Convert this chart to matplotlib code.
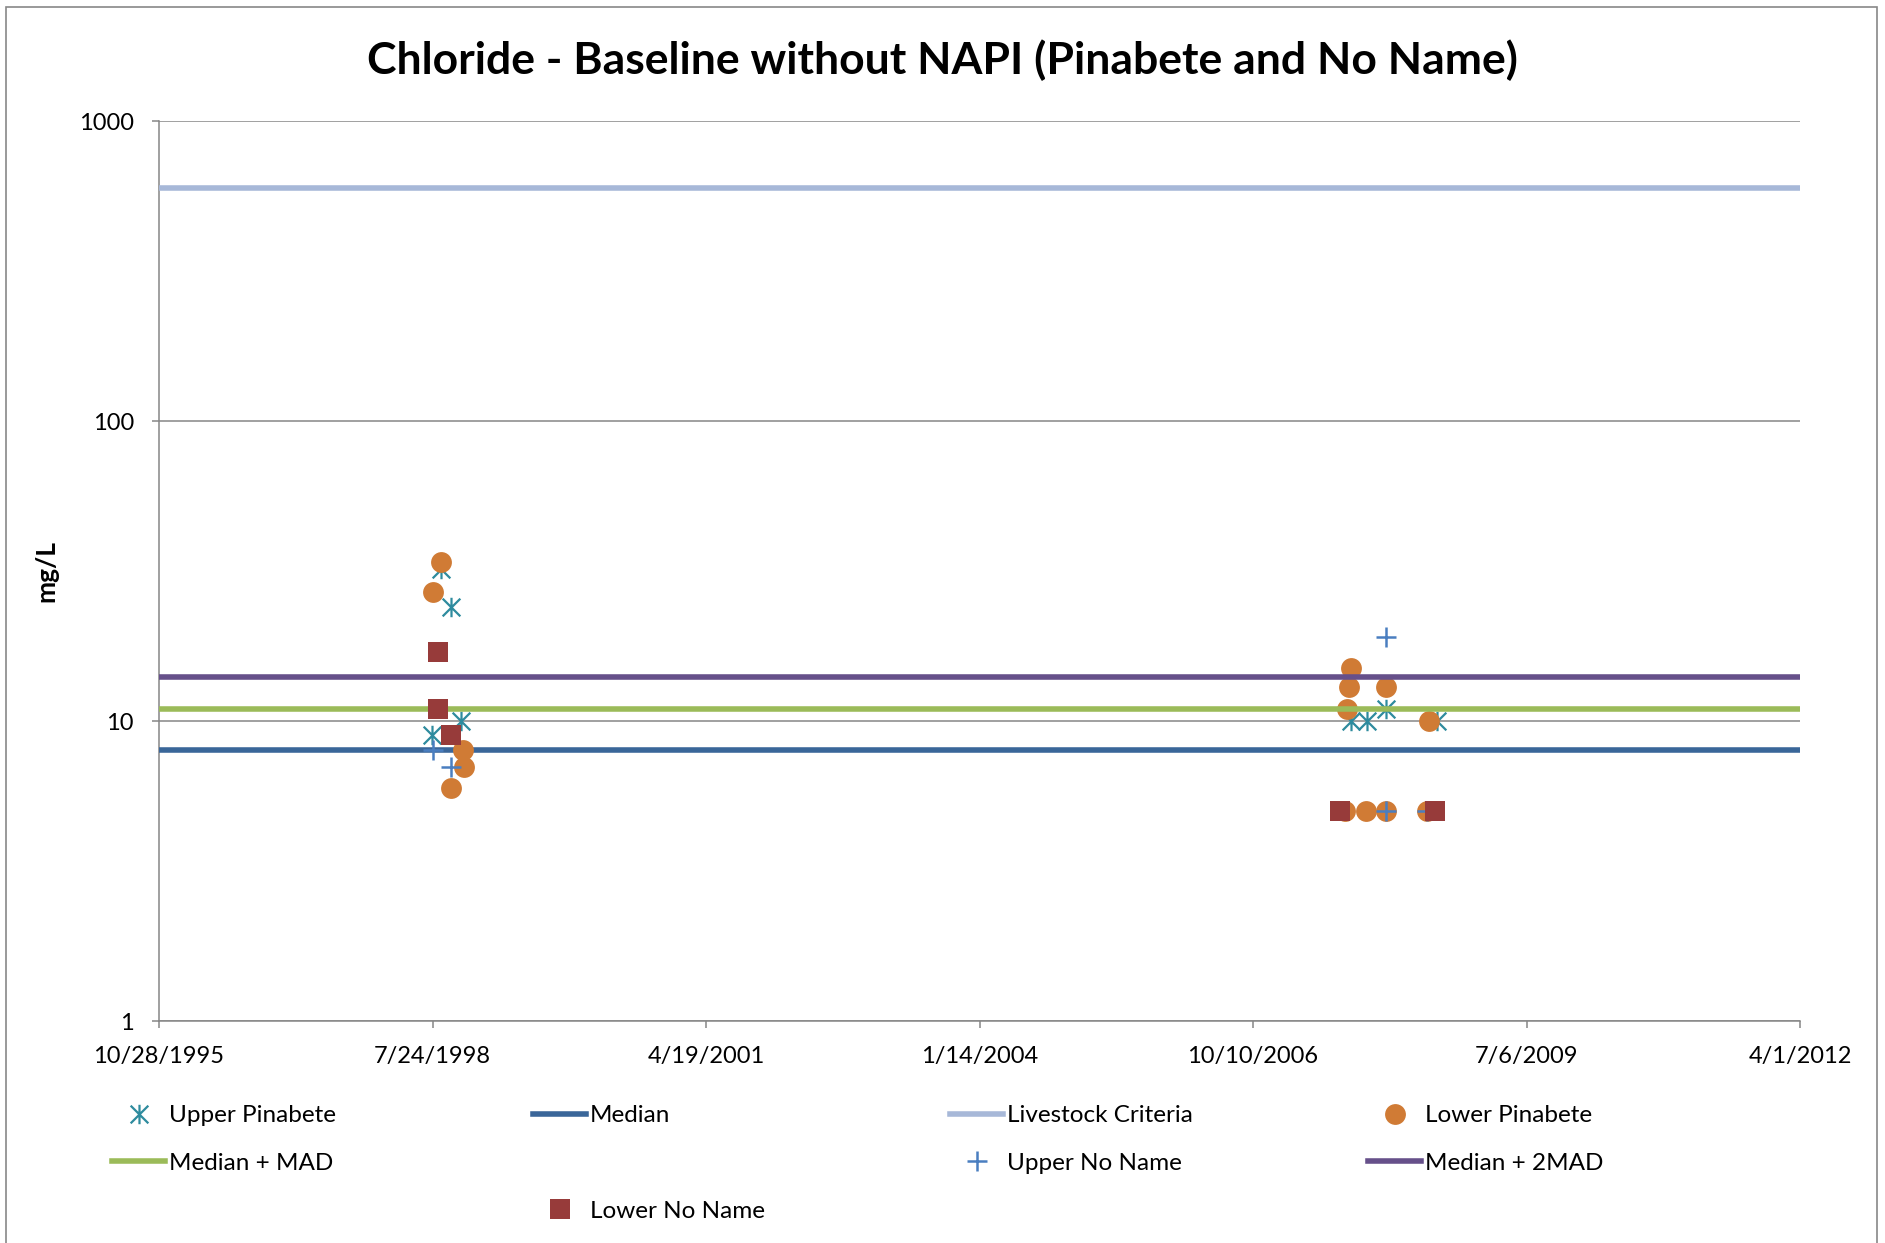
import numpy as np
import pandas as pd
import matplotlib
matplotlib.use("Agg")
import matplotlib.pyplot as plt
from matplotlib.path import Path
from matplotlib.lines import Line2D
from matplotlib.patches import Rectangle

plt.rcParams['font.family'] = ['Lato', 'DejaVu Sans']

# sample dates as Excel serial numbers, values in mg/L
upper_pin_dates = [36031, 36066, 36104, 35999, 39358, 39416, 39486, 39671]
upper_pin_vals = [32, 24, 10, 9, 10, 10, 11, 10]

lower_pin_dates = [36031, 36003, 36110, 36115, 36066,
                   39358, 39352, 39486, 39345, 39645, 39336, 39414, 39486, 39637]
lower_pin_vals = [34, 27, 8, 7, 6, 15, 13, 13, 11, 10, 5, 5, 5, 5]

upper_nn_dates = [36003, 36066, 39486, 39486, 39637]
upper_nn_vals = [8, 7, 19, 5, 5]

lower_nn_dates = [36019, 36019, 36066, 39318, 39666]
lower_nn_vals = [17, 11, 9, 5, 5]

median = 8
median_mad = 11
median_2mad = 14
livestock = 600

xtick_labels = ['10/28/1995', '7/24/1998', '4/19/2001', '1/14/2004',
                '10/10/2006', '7/6/2009', '4/1/2012']
ytick_vals = [1, 10, 100, 1000]


def to_date(serials):
    return pd.to_datetime(serials, unit='D', origin='1899-12-30')


# excel style star: vertical bar plus an X
star = Path([(-1, -1), (1, 1), (-1, 1), (1, -1), (0, -1.1), (0, 1.1)],
            [Path.MOVETO, Path.LINETO, Path.MOVETO, Path.LINETO, Path.MOVETO, Path.LINETO])

W, H = 1885, 1243
fig = plt.figure(figsize=(W / 100, H / 100), dpi=100)
ax = fig.add_axes([159 / W, 1 - 1021 / H, 1641 / W, 900 / H])

grey = '#868686'
c_star = '#2E8B9E'
c_median = '#3A6699'
c_live = '#A7B8D8'
c_orange = '#D07B35'
c_green = '#9BBB59'
c_plus = '#4A7EC0'
c_purple = '#66508A'
c_square = '#973B3A'

ax.plot(to_date(upper_pin_dates), upper_pin_vals, linestyle='none', marker=star,
        markersize=14, markeredgecolor=c_star, markeredgewidth=1.6, color=c_star,
        label='Upper Pinabete', zorder=3)
ax.axhline(median, color=c_median, lw=4, label='Median', zorder=3)
ax.axhline(livestock, color=c_live, lw=4, label='Livestock Criteria', zorder=3)
ax.plot(to_date(lower_pin_dates), lower_pin_vals, linestyle='none', marker='o',
        markersize=15, color=c_orange, markeredgewidth=0, label='Lower Pinabete', zorder=3)
ax.axhline(median_mad, color=c_green, lw=4, label='Median + MAD', zorder=3)
ax.plot(to_date(upper_nn_dates), upper_nn_vals, linestyle='none', marker='+',
        markersize=14, markeredgewidth=1.8, color=c_plus, label='Upper No Name', zorder=3)
ax.axhline(median_2mad, color=c_purple, lw=4, label='Median + 2MAD', zorder=3)
ax.plot(to_date(lower_nn_dates), lower_nn_vals, linestyle='none', marker='s',
        markersize=14, color=c_square, markeredgewidth=0, label='Lower No Name', zorder=3)

ax.set_yscale('log')
ax.set_ylim(1, 1000)
ax.set_yticks(ytick_vals)
ax.set_yticklabels([str(v) for v in ytick_vals])
ax.yaxis.set_minor_locator(matplotlib.ticker.NullLocator())

xt = pd.to_datetime(xtick_labels, format='%m/%d/%Y')
ax.set_xlim(xt[0], xt[-1])
ax.set_xticks(xt)
ax.set_xticklabels(xtick_labels)

ax.grid(axis='y', color=grey, lw=1.1, zorder=1)
ax.set_axisbelow(True)
for s in ['top', 'right']:
    ax.spines[s].set_visible(False)
for s in ['left', 'bottom']:
    ax.spines[s].set_color(grey)
    ax.spines[s].set_linewidth(1.1)
ax.tick_params(axis='both', direction='out', length=5, width=1.1, color=grey,
               labelsize=17, pad=13)

ax.set_ylabel('mg/L', fontsize=19, fontweight='bold')
ax.yaxis.set_label_coords(-0.0615, 0.5)

fig.text(0.5, 1 - 60 / H, 'Chloride - Baseline without NAPI (Pinabete and No Name)',
         ha='center', va='center', fontsize=32, fontweight='bold')

# legend laid out like the excel one: four columns with gaps
h, l = ax.get_legend_handles_labels()
hd = dict(zip(l, h))
blank = Line2D([], [], linestyle='none')
columns = [
    (112, [('Upper Pinabete', hd['Upper Pinabete']), ('Median + MAD', hd['Median + MAD'])]),
    (533, [('Median', hd['Median']), (' ', blank), ('Lower No Name', hd['Lower No Name'])]),
    (950, [('Livestock Criteria', hd['Livestock Criteria']), ('Upper No Name', hd['Upper No Name'])]),
    (1368, [('Lower Pinabete', hd['Lower Pinabete']), ('Median + 2MAD', hd['Median + 2MAD'])]),
]
for x0, items in columns:
    leg = fig.legend([it[1] for it in items], [it[0] for it in items],
                     loc='upper left', bbox_to_anchor=(x0 / W, 1 - 1105 / H),
                     frameon=False, fontsize=17.5, handlelength=2.2, handletextpad=0.15,
                     borderpad=0, borderaxespad=0, labelspacing=1.1)

fig.add_artist(Rectangle((6 / W, -0.01), 1871 / W, 1.01 - 7 / H, transform=fig.transFigure,
                         fill=False, edgecolor='#888888', lw=1.2))

fig.savefig('out.png', dpi=100, facecolor='white')
